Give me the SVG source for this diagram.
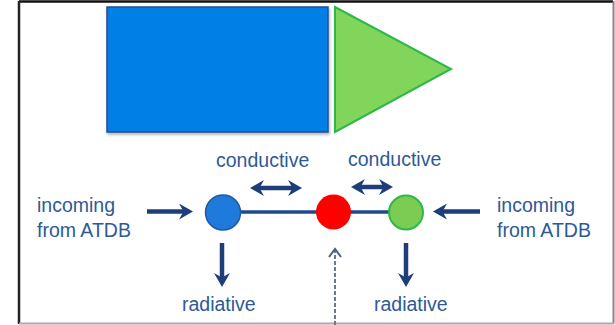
<svg xmlns="http://www.w3.org/2000/svg" width="615" height="325" viewBox="0 0 615 325">
  <defs>
    <style>
      .lbl { font-family: "Liberation Sans", Arial, sans-serif; font-size: 19.5px; fill: #2D5A96; }
      .arr { stroke: #1E3E7A; stroke-width: 4.5; fill: none; }
      .dash { stroke: #6A7890; stroke-width: 2; stroke-dasharray: 4 2; fill: none; }
    </style>
    <marker id="head" viewBox="0 0 14 16" refX="5" refY="8" markerWidth="14" markerHeight="16" markerUnits="userSpaceOnUse" orient="auto-start-reverse">
      <path d="M0,0 L14,8 L0,16 L4.5,8 z" fill="#1E3E7A"/>
    </marker>
    <marker id="open" viewBox="0 0 14 14" refX="9" refY="7" markerWidth="14" markerHeight="14" markerUnits="userSpaceOnUse" orient="auto">
      <path d="M1,1 L9,7 L1,13" fill="none" stroke="#4A6088" stroke-width="2"/>
    </marker>
    <filter id="shadow" x="-5%" y="-5%" width="115%" height="115%">
      <feDropShadow dx="1" dy="2" stdDeviation="1.5" flood-color="#000" flood-opacity="0.3"/>
    </filter>
  </defs>

  <rect x="0" y="0" width="615" height="325" fill="#ffffff"/>
  <g id="frame">
    <line x1="19" y1="1.5" x2="613" y2="1.5" stroke="#111" stroke-width="2.5"/>
    <line x1="19" y1="1" x2="19" y2="324" stroke="#222" stroke-width="2.5"/>
    <line x1="613.5" y1="1" x2="613.5" y2="324" stroke="#888" stroke-width="2"/>
    <line x1="19" y1="323.5" x2="614" y2="323.5" stroke="#aaa" stroke-width="2"/>
  </g>

  <g id="block-rect">
    <rect x="107" y="7" width="221" height="125" fill="#0080E6" stroke="#1F4F8F" stroke-width="1.5" filter="url(#shadow)"/>
  </g>
  <g id="block-triangle">
    <polygon points="335,7 335,132 451,69" fill="#80D55A" stroke="#2DB84A" stroke-width="2"/>
  </g>

  <g id="connectors">
    <line x1="240" y1="212" x2="389" y2="212" stroke="#1F4A8A" stroke-width="3.5"/>
    <line class="arr" x1="147" y1="211.5" x2="184" y2="211.5" marker-end="url(#head)"/>
    <line class="arr" x1="480" y1="211.5" x2="442" y2="211.5" marker-end="url(#head)"/>
    <line class="arr" x1="259" y1="188" x2="293" y2="188" marker-start="url(#head)" marker-end="url(#head)"/>
    <line class="arr" x1="360" y1="187" x2="384" y2="187" marker-start="url(#head)" marker-end="url(#head)"/>
    <line class="arr" x1="222" y1="243" x2="222" y2="278" marker-end="url(#head)"/>
    <line class="arr" x1="406" y1="243" x2="406" y2="278" marker-end="url(#head)"/>
    <line class="dash" x1="335" y1="325" x2="335" y2="249" marker-end="url(#open)"/>
  </g>

  <g id="node-blue">
    <circle cx="223" cy="212.5" r="17.5" fill="#1E7BDB" stroke="#2458A6" stroke-width="1.5"/>
  </g>
  <g id="node-red">
    <circle cx="333.5" cy="212" r="17.5" fill="#FF0000"/>
  </g>
  <g id="node-green">
    <circle cx="406" cy="212.5" r="17" fill="#7CCB52" stroke="#2DB84A" stroke-width="2"/>
  </g>

  <g id="labels">
    <text class="lbl" x="216" y="167">conductive</text>
    <text class="lbl" x="348" y="166">conductive</text>
    <text class="lbl" x="37" y="212">incoming</text>
    <text class="lbl" x="37" y="237">from ATDB</text>
    <text class="lbl" x="497" y="212">incoming</text>
    <text class="lbl" x="497" y="237">from ATDB</text>
    <text class="lbl" x="182" y="311">radiative</text>
    <text class="lbl" x="374" y="311">radiative</text>
  </g>
</svg>
